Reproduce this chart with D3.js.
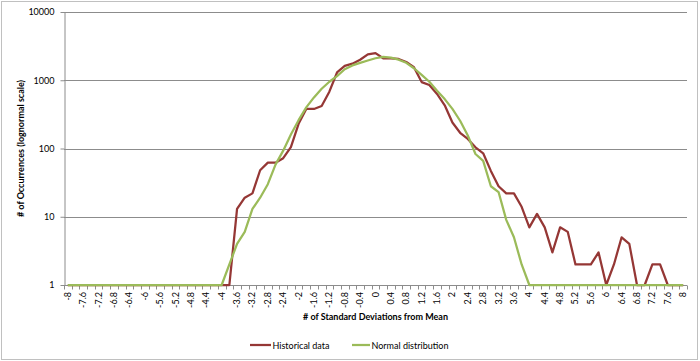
<!DOCTYPE html>
<html><head><meta charset="utf-8">
<script src="https://cdn.jsdelivr.net/npm/d3@7"></script>
<style>
body{margin:0;background:#fff;}
text{font-family:Lato,"Open Sans",sans-serif;fill:#000;}
</style></head>
<body><svg id="chart" width="700" height="361"></svg>
<script>
const categories = ["-8","-7.8","-7.6","-7.4","-7.2","-7","-6.8","-6.6","-6.4","-6.2","-6","-5.8","-5.6","-5.4","-5.2","-5","-4.8","-4.6","-4.4","-4.2","-4","-3.8","-3.6","-3.4","-3.2","-3","-2.8","-2.6","-2.4","-2.2","-2","-1.8","-1.6","-1.4","-1.2","-1","-0.8","-0.6","-0.4","-0.2","0","0.2","0.4","0.6","0.8","1","1.2","1.4","1.6","1.8","2","2.2","2.4","2.6","2.8","3","3.2","3.4","3.6","3.8","4","4.2","4.4","4.6","4.8","5","5.2","5.4","5.6","5.8","6","6.2","6.4","6.6","6.8","7","7.2","7.4","7.6","7.8","8"];
const historical = [1,1,1,1,1,1,1,1,1,1,1,1,1,1,1,1,1,1,1,1,1,1,
  13,19,22,48,62,62,72,105,230,380,380,420,680,1300,1620,1750,2000,2400,2500,2100,2100,2050,1850,1550,940,850,630,430,240,170,138,104,85,47,28,22,22,14,7,11,7,3,7,6,2,2,2,3,1,2,5,4,1,1,2,2,1,1,1];
const normal = [1,1,1,1,1,1,1,1,1,1,1,1,1,1,1,1,1,1,1,1,1,2,
  4,6,13,19,30,58,93,160,260,400,560,750,950,1150,1450,1650,1800,1950,2100,2200,2150,2000,1800,1500,1200,950,700,530,380,255,155,83,66,28,23,9,5,2,1,1,1,1,1,1,1,1,1,1,1,1,1,1,1,1,1,1,1,1,1];
const yTicks = [1,10,100,1000,10000];
const seriesNames = ["Historical data","Normal distribution"];
const seriesColors = ["#953735","#9BBB59"];

const svg = d3.select("#chart");
const mLeft = 64, mRight = 687, mTop = 12, mBottom = 285;

// chart border
svg.append("rect").attr("x",1.5).attr("y",1.5).attr("width",696).attr("height",358)
  .attr("fill","#fff").attr("stroke","#c0c0c0").attr("stroke-width",1);

const x = d3.scaleBand().domain(categories).range([mLeft,mRight]).padding(0);
const y = d3.scaleLog().domain([1,10000]).range([mBottom,mTop]);
const cx = c => x(c) + x.bandwidth()/2;

// gridlines
svg.append("g").selectAll("line").data(yTicks.slice(1)).join("line")
  .attr("x1",mLeft).attr("x2",mRight)
  .attr("y1",d=>Math.round(y(d))+0.5).attr("y2",d=>Math.round(y(d))+0.5)
  .attr("stroke","#8c8c8c").attr("stroke-width",1);

// y axis
const yAxis = svg.append("g").attr("transform",`translate(${mLeft+0.5},0)`)
  .call(d3.axisLeft(y).tickValues(yTicks).tickFormat(d3.format("d")).tickSize(4).tickSizeOuter(0).tickPadding(6));
yAxis.select(".domain").attr("stroke","#8c8c8c");
yAxis.selectAll(".tick line").attr("stroke","#8c8c8c");
yAxis.selectAll(".tick text").attr("font-size","9px").attr("font-family","Lato");

// x axis line
svg.append("line").attr("x1",mLeft).attr("x2",mRight)
  .attr("y1",Math.round(y(1))+0.5).attr("y2",Math.round(y(1))+0.5)
  .attr("stroke","#8c8c8c");
// x ticks at band boundaries
const bounds = categories.map(c=>x(c)).concat([x(categories[categories.length-1])+x.bandwidth()]);
svg.append("g").selectAll("line").data(bounds).join("line")
  .attr("x1",d=>Math.round(d)+0.5).attr("x2",d=>Math.round(d)+0.5)
  .attr("y1",Math.round(y(1))+0.5).attr("y2",Math.round(y(1))+4.5)
  .attr("stroke","#8c8c8c");
// x labels every other
svg.append("g").selectAll("text").data(categories.filter((c,i)=>i%2===0)).join("text")
  .attr("transform",d=>`translate(${cx(d)+3},${mBottom+7}) rotate(-90)`)
  .attr("text-anchor","end").attr("font-size","9px").text(d=>d);

// axis titles
svg.append("text").attr("transform",`translate(24,${(mTop+mBottom)/2}) rotate(-90)`)
  .attr("text-anchor","middle").attr("font-size","9px").attr("font-weight","bold")
  .text("# of Occurrences (lognormal scale)");
svg.append("text").attr("x",(mLeft+mRight)/2).attr("y",320)
  .attr("text-anchor","middle").attr("font-size","9px").attr("font-weight","bold")
  .text("# of Standard Deviations from Mean");

// lines
const line = d3.line().x((d,i)=>cx(categories[i])).y(d=>y(d));
[historical, normal].forEach((s,k)=>{
  svg.append("path").datum(s).attr("d",line).attr("fill","none")
    .attr("stroke",seriesColors[k]).attr("stroke-width",2.25)
    .attr("stroke-linejoin","round").attr("stroke-linecap","butt");
});

// legend
const legendItems = [{x:250,w:21},{x:352,w:18}];
seriesNames.forEach((n,k)=>{
  const it = legendItems[k];
  svg.append("line").attr("x1",it.x).attr("x2",it.x+it.w).attr("y1",345).attr("y2",345)
    .attr("stroke",seriesColors[k]).attr("stroke-width",2.25);
  svg.append("text").attr("x",it.x+it.w+1.5).attr("y",348.5).attr("font-size","9px").text(n);
});
</script></body></html>
